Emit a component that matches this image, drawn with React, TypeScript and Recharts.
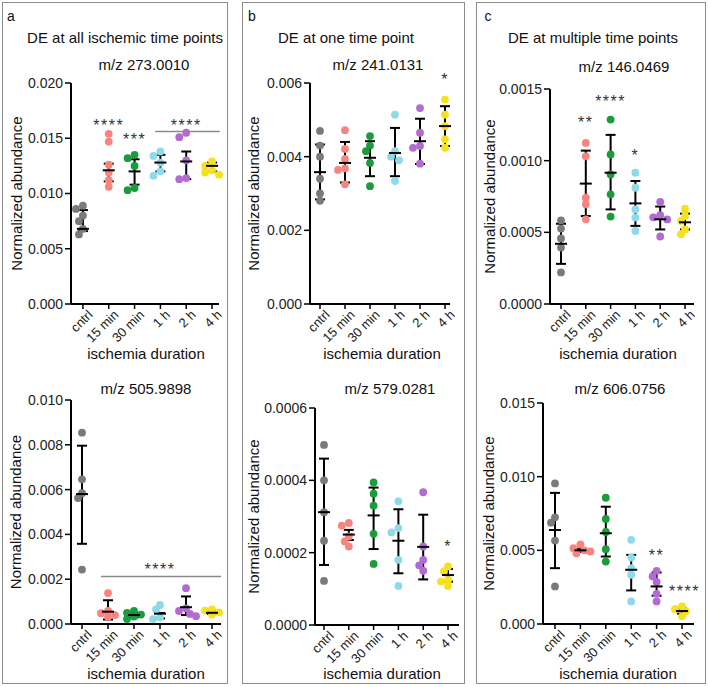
import React from "react";
import { ScatterChart, Scatter, XAxis, YAxis, ErrorBar, ReferenceLine, ReferenceDot } from "recharts";

const groups = ["cntrl", "15 min", "30 min", "1 h", "2 h", "4 h"];
const groupColors = ["#7a7a7a", "#f7857f", "#1a9c3c", "#8fd9ea", "#b16bd1", "#f5e11c"];

// m/z 273.0010 (DE at all ischemic time points)
const mz273Values = [
  [0.0089, 0.0086, 0.008, 0.0075, 0.0068, 0.0063],
  [0.0154, 0.0147, 0.0126, 0.0119, 0.0112, 0.0106],
  [0.0135, 0.0132, 0.0125, 0.0105, 0.0103],
  [0.0138, 0.0134, 0.0128, 0.012, 0.0116],
  [0.0155, 0.0151, 0.013, 0.0114, 0.0113],
  [0.0129, 0.0125, 0.0121, 0.0119, 0.0117],
];
const mz273Center = [0.0068, 0.0121, 0.012, 0.0128, 0.0129, 0.0125];
const mz273Low = [0.0066, 0.0111, 0.0108, 0.012, 0.0113, 0.012];
const mz273High = [0.0085, 0.0127, 0.0131, 0.0135, 0.0138, 0.0128];
const mz273Ticks = [0, 0.005, 0.01, 0.015, 0.02];
const mz273Stars = [
  { x: 1, y: 0.0165, text: "****" },
  { x: 2, y: 0.0152, text: "***" },
  { x: 4, y: 0.0165, text: "****" },
];
const mz273Lines = [{ x1: 2.8, x2: 5.3, y: 0.0156 }];

// m/z 505.9898
const mz505Values = [
  [0.00854, 0.00646, 0.00584, 0.00562, 0.00243],
  [0.00138, 0.00058, 0.00048, 0.0004, 0.00032],
  [0.00058, 0.0005, 0.00042, 0.00033, 0.00022],
  [0.00085, 0.00065, 0.0003, 0.00022],
  [0.0016, 0.0007, 0.00058, 0.00045, 0.00035],
  [0.00065, 0.0006, 0.00052, 0.00042],
];
const mz505Center = [0.0058, 0.00055, 0.0004, 0.00046, 0.00075, 0.0005];
const mz505Low = [0.00358, 0.0002, 0.0003, 0.00025, 0.0004, 0.00045];
const mz505High = [0.00796, 0.00106, 0.0005, 0.00049, 0.00123, 0.00058];
const mz505Ticks = [0, 0.002, 0.004, 0.006, 0.008, 0.01];
const mz505Stars = [{ x: 3, y: 0.0026, text: "****" }];
const mz505Lines = [{ x1: 0.73, x2: 5.35, y: 0.00212 }];

// m/z 241.0131 (DE at one time point)
const mz241Values = [
  [0.0047, 0.0043, 0.004, 0.0034, 0.003, 0.0028],
  [0.00472, 0.00421, 0.00394, 0.00368, 0.00364, 0.00325],
  [0.00456, 0.0043, 0.00415, 0.00383, 0.0032],
  [0.00514, 0.00415, 0.004, 0.0039, 0.00334],
  [0.00532, 0.00465, 0.00429, 0.00424, 0.00381],
  [0.00555, 0.00514, 0.00483, 0.00447, 0.00424],
];
const mz241Center = [0.00358, 0.00383, 0.00397, 0.0041, 0.00442, 0.00483];
const mz241Low = [0.00284, 0.0033, 0.00347, 0.00347, 0.0038, 0.00429];
const mz241High = [0.00433, 0.0044, 0.00442, 0.00478, 0.00503, 0.00537];
const mz241Ticks = [0, 0.002, 0.004, 0.006];
const mz241Stars = [{ x: 5, y: 0.0062, text: "*" }];

// m/z 579.0281
const mz579Values = [
  [0.000498, 0.0004, 0.000312, 0.000233, 0.000122],
  [0.000282, 0.000275, 0.000245, 0.000231, 0.000217],
  [0.000394, 0.000363, 0.00033, 0.000252, 0.000169],
  [0.000342, 0.000268, 0.000256, 0.00018, 0.000108],
  [0.000367, 0.000217, 0.00018, 0.000165, 0.00015],
  [0.000162, 0.000148, 0.000125, 0.00012, 0.000108],
];
const mz579Center = [0.000312, 0.00025, 0.000303, 0.000233, 0.000216, 0.000138];
const mz579Low = [0.000166, 0.000235, 0.00021, 0.000143, 0.000126, 0.00012];
const mz579High = [0.00046, 0.000263, 0.00038, 0.00032, 0.000305, 0.000155];
const mz579Ticks = [0, 0.0002, 0.0004, 0.0006];
const mz579Stars = [{ x: 5, y: 0.000226, text: "*" }];

// m/z 146.0469 (DE at multiple time points)
const mz146Values = [
  [0.000584, 0.000526, 0.000457, 0.000394, 0.00022],
  [0.001124, 0.00103, 0.000742, 0.000696, 0.000591],
  [0.001287, 0.001043, 0.000904, 0.000765, 0.00061],
  [0.000916, 0.000811, 0.00066, 0.000603, 0.00051],
  [0.000712, 0.00062, 0.000605, 0.00059, 0.000471],
  [0.000665, 0.000614, 0.00058, 0.00052, 0.000487],
];
const mz146Center = [0.00042, 0.00084, 0.000916, 0.000702, 0.000591, 0.00057];
const mz146Low = [0.00028, 0.000614, 0.00066, 0.000545, 0.00052, 0.00052];
const mz146High = [0.00056, 0.00107, 0.00118, 0.000858, 0.00068, 0.00063];
const mz146Ticks = [0, 0.0005, 0.001, 0.0015];
const mz146Stars = [
  { x: 1, y: 0.00129, text: "**" },
  { x: 2, y: 0.00144, text: "****" },
  { x: 3, y: 0.00106, text: "*" },
];

// m/z 606.0756
const mz606Values = [
  [0.00954, 0.00724, 0.00688, 0.00566, 0.00255],
  [0.0054, 0.00514, 0.005, 0.00492, 0.0048],
  [0.00857, 0.00713, 0.00625, 0.00508, 0.00424],
  [0.00571, 0.00451, 0.00379, 0.00334, 0.00153],
  [0.00361, 0.00323, 0.00285, 0.00205, 0.00153],
  [0.0012, 0.001, 0.00086, 0.00052],
];
const mz606Center = [0.00638, 0.005, 0.00616, 0.00368, 0.00255, 0.00088];
const mz606Low = [0.00379, 0.0049, 0.00458, 0.00228, 0.00192, 0.0007];
const mz606High = [0.0089, 0.0051, 0.00796, 0.00469, 0.0035, 0.00105];
const mz606Ticks = [0, 0.005, 0.01, 0.015];
const mz606Stars = [
  { x: 4, y: 0.0049, text: "**" },
  { x: 5.1, y: 0.00244, text: "****" },
];

const FONT = "'Liberation Sans', Arial, Helvetica, sans-serif";

type Geo = {
  left: number;
  width: number;
  axisX: number;
  x0: number;
  x5: number;
  xEnd: number;
  yTop: number;
  yZero: number;
  labelX: number;
};

type Star = { x: number; y: number; text: string };
type Seg = { x1: number; x2: number; y: number };

// spread overlapping dots sideways a little (pixel based)
function swarm(vals: number[], g: number, pxPerUnit: number, s: number) {
  const placed: { dx: number; py: number }[] = [];
  const order = vals.map((_, i) => i).sort((a, b) => vals[b] - vals[a]);
  const out: { x: number; y: number }[] = [];
  for (const i of order) {
    const py = vals[i] * pxPerUnit;
    let best = 0;
    let bestD = -1;
    for (const cand of [0, -4, 4, -7, 7, -10, 10]) {
      const d = placed.length ? Math.min(...placed.map((p) => Math.hypot(p.dx - cand, p.py - py))) : 99;
      if (d >= 6) {
        best = cand;
        bestD = d;
        break;
      }
      if (d > bestD) {
        bestD = d;
        best = cand;
      }
    }
    placed.push({ dx: best, py });
    out.push({ x: g + best / s, y: vals[i] });
  }
  return out;
}

function Plot(props: {
  values: number[][];
  center: number[];
  low: number[];
  high: number[];
  ticks: number[];
  digits: number;
  stars: Star[];
  lines?: Seg[];
  geo: Geo;
}) {
  const { values, center, low, high, ticks, digits, stars, lines = [], geo } = props;
  const s = (geo.x5 - geo.x0) / 5;
  const lo = -(geo.x0 - geo.axisX) / s;
  const hi = 5 + (geo.xEnd - geo.x5) / s;
  const yMax = ticks[ticks.length - 1];
  const pxPerUnit = (geo.yZero - geo.yTop) / yMax;
  const mTop = 16;
  const top = geo.yTop - mTop;
  const xAxisH = 44;
  const height = geo.yZero - top + xAxisH;
  const yAxisW = geo.axisX - geo.left;
  const points = values.map((v, g) => swarm(v, g, pxPerUnit, s));
  const summary = center.map((c, i) => ({ x: i, y: c, err: [c - low[i], high[i] - c] }));

  return (
    <div style={{ position: "absolute", left: geo.left, top }}>
      <ScatterChart
        width={geo.width}
        height={height}
        margin={{ top: mTop, right: geo.left + geo.width - geo.xEnd, bottom: 0, left: 0 }}
        style={{ overflow: "visible" }}
      >
        <XAxis
          type="number"
          dataKey="x"
          domain={[lo, hi]}
          ticks={[0, 1, 2, 3, 4, 5]}
          interval={0}
          tickFormatter={(v: number) => groups[v]}
          tick={{ angle: -45, textAnchor: "end", fontSize: 13, fill: "#222", fontFamily: FONT, dx: 4, dy: -2 }}
          tickSize={5}
          tickLine={{ stroke: "#000", strokeWidth: 1.5 }}
          axisLine={{ stroke: "#000", strokeWidth: 2 }}
          height={xAxisH}
        />
        <YAxis
          type="number"
          dataKey="y"
          domain={[0, yMax]}
          ticks={ticks}
          interval={0}
          width={yAxisW}
          tickSize={6}
          tickMargin={2}
          tickFormatter={(v: number) => v.toFixed(digits)}
          tick={{ fontSize: 14, fill: "#222", fontFamily: FONT }}
          tickLine={{ stroke: "#000", strokeWidth: 1.5 }}
          axisLine={{ stroke: "#000", strokeWidth: 2 }}
          label={{
            value: "Normalized abundance",
            angle: -90,
            position: "center",
            dx: geo.labelX - (geo.left + yAxisW / 2),
            style: { fontSize: 15, fill: "#111", fontFamily: FONT, textAnchor: "middle" },
          }}
        />
        {points.map((pts, g) => (
          <Scatter
            key={groups[g]}
            data={pts}
            fill={groupColors[g]}
            isAnimationActive={false}
            shape={(p: any) => <circle cx={p.cx} cy={p.cy} r={3.9} fill={groupColors[g]} />}
          />
        ))}
        <Scatter
          data={summary}
          isAnimationActive={false}
          shape={(p: any) => <line x1={p.cx - 6} x2={p.cx + 6} y1={p.cy} y2={p.cy} stroke="#000" strokeWidth={2} />}
        >
          <ErrorBar dataKey="err" direction="y" width={5} stroke="#000" strokeWidth={2} />
        </Scatter>
        {lines.map((l, i) => (
          <ReferenceLine
            key={"l" + i}
            segment={[
              { x: l.x1, y: l.y },
              { x: l.x2, y: l.y },
            ]}
            stroke="#8a8a8a"
            strokeWidth={1.5}
            ifOverflow="visible"
          />
        ))}
        {stars.map((st, i) => (
          <ReferenceDot
            key={"s" + i}
            x={st.x}
            y={st.y}
            r={0}
            ifOverflow="visible"
            shape={(p: any) => (
              <text x={p.cx} y={p.cy + 9} textAnchor="middle" fontSize={16} letterSpacing={1.5} fill="#333" fontFamily={FONT}>
                {st.text}
              </text>
            )}
          />
        ))}
      </ScatterChart>
    </div>
  );
}

function Txt({ x, y, size = 15, children }: { x: number; y: number; size?: number; children: React.ReactNode }) {
  return (
    <div
      style={{
        position: "absolute",
        left: x,
        top: y,
        transform: "translate(-50%, -50%)",
        fontSize: size,
        lineHeight: 1,
        whiteSpace: "nowrap",
        fontFamily: FONT,
        color: "#111",
      }}
    >
      {children}
    </div>
  );
}

const boxStyle = (left: number, right: number): React.CSSProperties => ({
  position: "absolute",
  left,
  top: 2,
  width: right - left - 1,
  height: 680,
  border: "1px solid #8c8c8c",
  boxSizing: "content-box",
});

export default function App() {
  return (
    <div style={{ position: "absolute", left: 0, top: 0, width: 708, height: 687, background: "#fff", fontFamily: FONT }}>
      <div style={boxStyle(2, 227)} />
      <div style={boxStyle(242, 464)} />
      <div style={boxStyle(476, 705)} />

      <Txt x={11} y={16} size={14}>a</Txt>
      <Txt x={252} y={16} size={14}>b</Txt>
      <Txt x={488} y={16} size={14}>c</Txt>

      <Txt x={125} y={37}>DE at all ischemic time points</Txt>
      <Txt x={346} y={37}>DE at one time point</Txt>
      <Txt x={593} y={37}>DE at multiple time points</Txt>

      <Txt x={144} y={64}>m/z 273.0010</Txt>
      <Txt x={378} y={64}>m/z 241.0131</Txt>
      <Txt x={624} y={66}>m/z 146.0469</Txt>
      <Txt x={146} y={388}>m/z 505.9898</Txt>
      <Txt x={390} y={388}>m/z 579.0281</Txt>
      <Txt x={620} y={388}>m/z 606.0756</Txt>

      <Txt x={146} y={353}>ischemia duration</Txt>
      <Txt x={382} y={353}>ischemia duration</Txt>
      <Txt x={618} y={353}>ischemia duration</Txt>
      <Txt x={146} y={673}>ischemia duration</Txt>
      <Txt x={382} y={673}>ischemia duration</Txt>
      <Txt x={618} y={673}>ischemia duration</Txt>

      <Plot
        values={mz273Values}
        center={mz273Center}
        low={mz273Low}
        high={mz273High}
        ticks={mz273Ticks}
        digits={3}
        stars={mz273Stars}
        lines={mz273Lines}
        geo={{ left: 3, width: 223, axisX: 71, x0: 83, x5: 213, xEnd: 219, yTop: 83, yZero: 304, labelX: 17 }}
      />
      <Plot
        values={mz241Values}
        center={mz241Center}
        low={mz241Low}
        high={mz241High}
        ticks={mz241Ticks}
        digits={3}
        stars={mz241Stars}
        geo={{ left: 243, width: 220, axisX: 310, x0: 320, x5: 445, xEnd: 450, yTop: 83, yZero: 304, labelX: 254 }}
      />
      <Plot
        values={mz146Values}
        center={mz146Center}
        low={mz146Low}
        high={mz146High}
        ticks={mz146Ticks}
        digits={4}
        stars={mz146Stars}
        geo={{ left: 477, width: 227, axisX: 550, x0: 561, x5: 685, xEnd: 694, yTop: 89, yZero: 304, labelX: 490 }}
      />
      <Plot
        values={mz505Values}
        center={mz505Center}
        low={mz505Low}
        high={mz505High}
        ticks={mz505Ticks}
        digits={3}
        stars={mz505Stars}
        lines={mz505Lines}
        geo={{ left: 3, width: 223, axisX: 71, x0: 82, x5: 212, xEnd: 221, yTop: 400, yZero: 624, labelX: 16 }}
      />
      <Plot
        values={mz579Values}
        center={mz579Center}
        low={mz579Low}
        high={mz579High}
        ticks={mz579Ticks}
        digits={4}
        stars={mz579Stars}
        geo={{ left: 243, width: 220, axisX: 315, x0: 324, x5: 448, xEnd: 459, yTop: 408, yZero: 625, labelX: 254 }}
      />
      <Plot
        values={mz606Values}
        center={mz606Center}
        low={mz606Low}
        high={mz606High}
        ticks={mz606Ticks}
        digits={3}
        stars={mz606Stars}
        geo={{ left: 477, width: 227, axisX: 543, x0: 555, x5: 682, xEnd: 694, yTop: 403, yZero: 624, labelX: 489 }}
      />
    </div>
  );
}
